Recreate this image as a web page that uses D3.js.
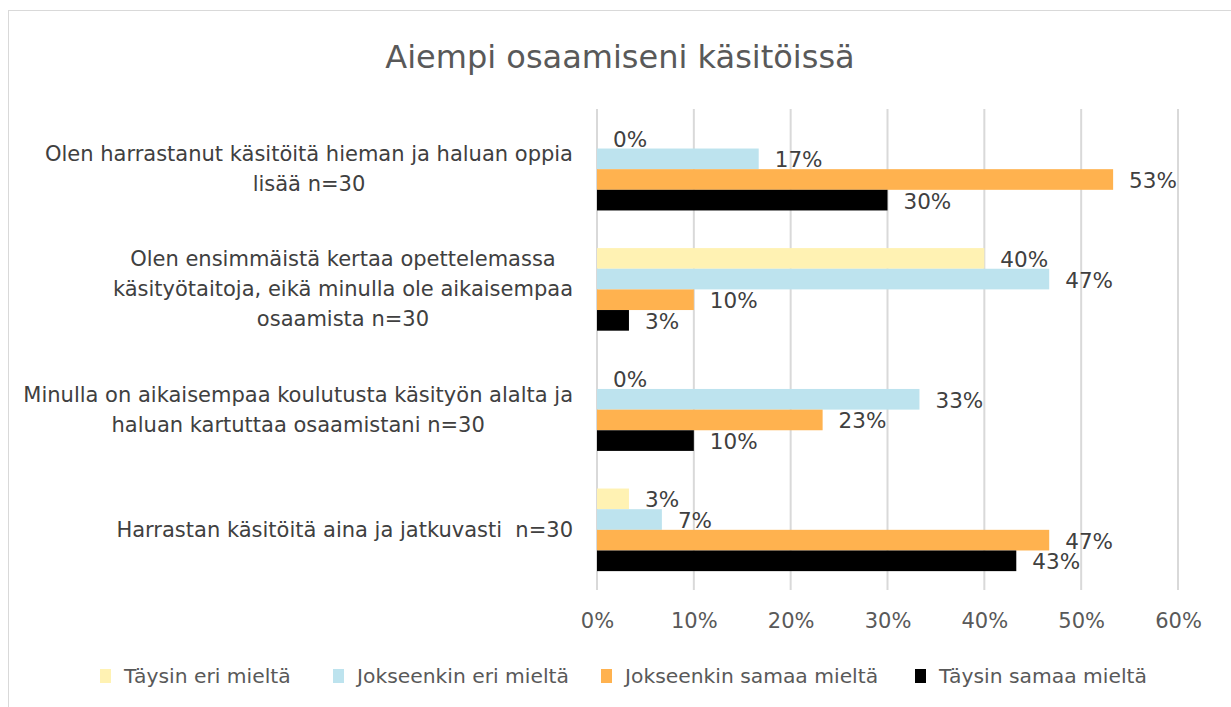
<!DOCTYPE html>
<html>
<head>
<meta charset="utf-8">
<script src="https://cdn.jsdelivr.net/npm/d3@7"></script>
<style>
  body { margin: 0; background: #fff; }
  svg { display: block; font-family: "DejaVu Sans", Verdana, sans-serif; }
  text { white-space: pre; }
</style>
</head>
<body>
<div id="chart"></div>
<script>
// data
const categories = [
  ['Olen harrastanut käsitöitä hieman ja haluan oppia', 'lisää n=30'],
  ['Olen ensimmäistä kertaa opettelemassa', 'käsityötaitoja, eikä minulla ole aikaisempaa', 'osaamista n=30'],
  ['Minulla on aikaisempaa koulutusta käsityön alalta ja', 'haluan kartuttaa osaamistani n=30'],
  ['Harrastan käsitöitä aina ja jatkuvasti  n=30']
];
const seriesNames = ['Täysin eri mieltä', 'Jokseenkin eri mieltä', 'Jokseenkin samaa mieltä', 'Täysin samaa mieltä'];
const seriesColors = ['#fff2b3', '#bde3ee', '#ffb24f', '#000000'];
// percentages (n=30)
const values = [
  [0, 16.7, 53.3, 30],
  [40, 46.7, 10, 3.3],
  [0, 33.3, 23.3, 10],
  [3.3, 6.7, 46.7, 43.3]
];
const xTicks = [0, 10, 20, 30, 40, 50, 60];

// layout
const W = 1231, H = 707;
const margin = {top: 109, right: 53, bottom: 117, left: 597};
const width = W - margin.left - margin.right;
const height = H - margin.top - margin.bottom;

const svg = d3.select('#chart').append('svg')
    .attr('width', W)
    .attr('height', H);

// outer frame
svg.append('rect')
    .attr('x', 8.5).attr('y', 10.5)
    .attr('width', W).attr('height', H)
    .attr('fill', 'none')
    .attr('stroke', '#d9d9d9');

svg.append('text')
    .attr('x', 620)
    .attr('y', 68)
    .attr('text-anchor', 'middle')
    .attr('font-size', 32)
    .attr('fill', '#595959')
    .text('Aiempi osaamiseni käsitöissä');

const g = svg.append('g')
    .attr('transform', 'translate(' + margin.left + ',' + margin.top + ')');

// scales
const x = d3.scaleLinear().domain([0, 60]).range([0, width]);
const y = d3.scaleBand().domain(d3.range(categories.length)).range([0, height]).paddingInner(0.313).paddingOuter(0.157);
const ySub = d3.scaleBand().domain(d3.range(seriesNames.length)).range([0, y.bandwidth()]);

// gridlines
g.append('g')
    .selectAll('line')
    .data(xTicks)
    .join('line')
    .attr('x1', d => x(d)).attr('x2', d => x(d))
    .attr('y1', 0).attr('y2', height)
    .attr('stroke', '#d9d9d9')
    .attr('stroke-width', 2);

// x axis labels
const xAxis = d3.axisBottom(x).tickValues(xTicks).tickSize(0).tickPadding(23).tickFormat(d => d + '%');
g.append('g')
    .attr('class', 'x-axis')
    .attr('transform', 'translate(0,' + height + ')')
    .call(xAxis)
    .call(a => a.select('.domain').remove())
    .selectAll('text')
    .attr('font-size', 21)
    .attr('font-family', '"DejaVu Sans", Verdana, sans-serif')
    .attr('fill', '#595959');

// bars
const groups = g.selectAll('.group')
    .data(values)
    .join('g')
    .attr('class', 'group')
    .attr('transform', (d, i) => 'translate(0,' + y(i) + ')');

groups.selectAll('rect')
    .data(d => d)
    .join('rect')
    .attr('x', 0)
    .attr('y', (d, j) => ySub(j))
    .attr('width', d => x(d))
    .attr('height', ySub.bandwidth())
    .attr('fill', (d, j) => seriesColors[j]);

groups.selectAll('.lbl')
    .data(d => d)
    .join('text')
    .attr('class', 'lbl')
    .attr('x', d => x(d) + 16)
    .attr('y', (d, j) => ySub(j) + ySub.bandwidth() / 2 + 1)
    .attr('dominant-baseline', 'central')
    .attr('font-size', 21.5)
    .attr('fill', '#404040')
    .text(d => Math.round(d) + '%');

// category labels
const catLabels = svg.append('g')
    .selectAll('text')
    .data(categories)
    .join('text')
    .attr('font-size', 21)
    .attr('fill', '#404040')
    .attr('text-anchor', 'middle');

catLabels.each(function(lines, i) {
    const t = d3.select(this);
    const cy = margin.top + y(i) + y.bandwidth() / 2;
    const lineH = 30;
    lines.forEach((ln, k) => {
        t.append('tspan')
            .attr('y', cy + (k - (lines.length - 1) / 2) * lineH)
            .attr('dominant-baseline', 'central')
            .text(ln);
    });
    // centre block so that widest line ends at x=573
    const widest = d3.max(t.selectAll('tspan').nodes(), n => n.getComputedTextLength());
    t.selectAll('tspan').attr('x', 573 - widest / 2);
});

// legend
const legendX = [100, 333, 601, 915];
const legend = svg.append('g')
    .selectAll('g')
    .data(seriesNames)
    .join('g')
    .attr('transform', (d, i) => 'translate(' + legendX[i] + ',676)');

legend.append('rect')
    .attr('x', 0).attr('y', -7)
    .attr('width', 11).attr('height', 14)
    .attr('fill', (d, i) => seriesColors[i]);

legend.append('text')
    .attr('x', 24)
    .attr('dominant-baseline', 'central')
    .attr('font-size', 20.3)
    .attr('fill', '#595959')
    .text(d => d);
</script>
</body>
</html>
